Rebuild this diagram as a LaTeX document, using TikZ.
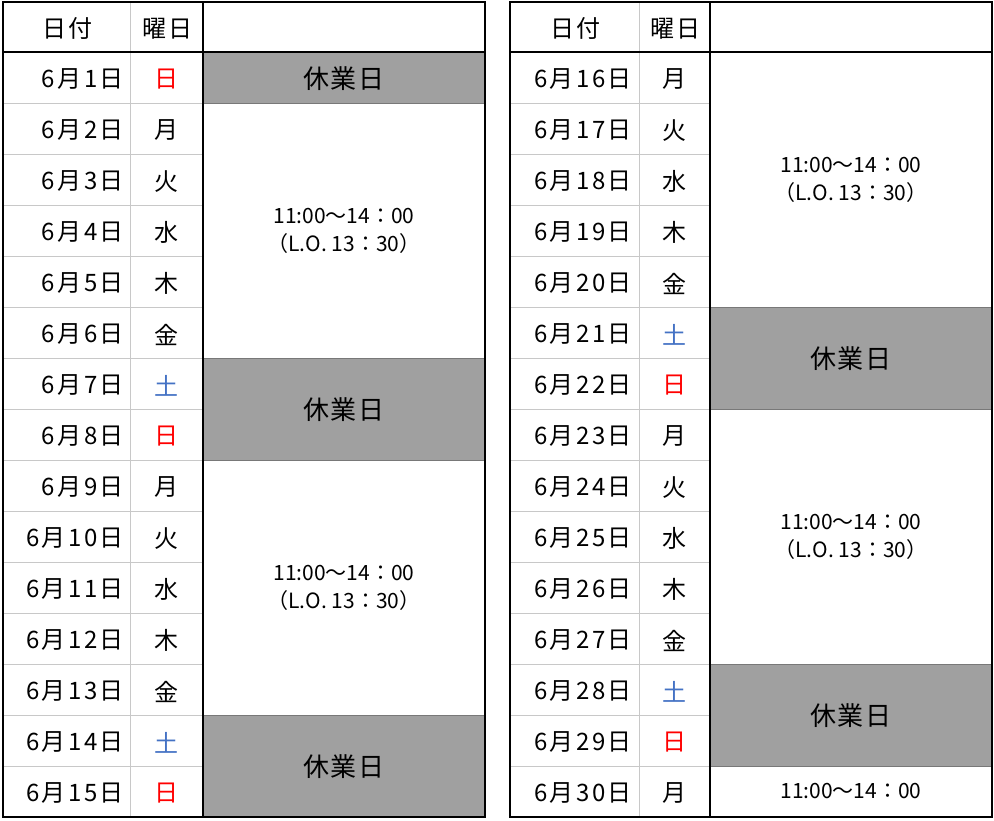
\documentclass[tikz,border=0pt]{standalone}
\usepackage{fontspec}
\setmainfont{Noto Sans CJK JP}
\definecolor{sun}{RGB}{255,0,0}
\definecolor{sat}{RGB}{68,114,196}
\definecolor{closedgray}{RGB}{160,160,160}
\definecolor{edgegray}{RGB}{120,120,120}
\definecolor{gridgray}{RGB}{200,200,200}
\tikzset{
  frame/.style={line width=2.5pt,draw=black},
  gridline/.style={line width=1pt,draw=gridgray},
  closed/.style={fill=closedgray,draw=edgegray,line width=1pt},
  headcell/.style={yshift=-1.5pt,font=\fontsize{24}{24}\selectfont\addfontfeature{LetterSpace=10}},
  datecell/.style={anchor=east,inner sep=0pt,yshift=-2pt,font=\fontsize{24}{24}\selectfont\addfontfeature{LetterSpace=10}},
  daycell/.style={inner sep=0pt,yshift=-2pt,font=\fontsize{24}{24}\selectfont},
  hours/.style={align=center,font=\fontsize{21}{28}\selectfont},
  holiday/.style={yshift=-1pt,font=\fontsize{26}{26}\selectfont\addfontfeature{LetterSpace=5}}
}
\begin{document}
\begin{tikzpicture}[x=1pt,y=-1pt]
\useasboundingbox (0,0) rectangle (994,820);

% left table
\draw[closed] (203,52) rectangle (485,103);
\draw[closed] (203,358) rectangle (485,460);
\draw[closed] (203,715) rectangle (485,817);
\foreach \i in {1,...,14}
  \draw[gridline] (3,{52+\i*51}) -- (203,{52+\i*51});
\draw[gridline] (130,2) -- (130,817);
\draw[frame] (3,2) rectangle (485,817);
\draw[frame] (3,52) -- (485,52);
\draw[frame] (203,2) -- (203,817);

\node[headcell] (headL1) at (67.5,27) {日付};
\node[headcell] (headL2) at (167.5,27) {曜日};
\foreach \d/\w/\c [count=\i] in {1/日/sun,2/月/black,3/火/black,4/水/black,5/木/black,
    6/金/black,7/土/sat,8/日/sun,9/月/black,10/火/black,11/水/black,12/木/black,
    13/金/black,14/土/sat,15/日/sun} {
  \node[datecell] (dateL\i) at (124,{52+(\i-0.5)*51}) {6月{\d}日};
  \node[daycell,text=\c] (dayL\i) at (166.5,{52+(\i-0.5)*51}) {\w};
}
\node[holiday] (offL1) at (344,77.5) {休業日};
\node[hours] (openL1) at (344,230.5) {11:00～14：00\\（L.O. 13：30）};
\node[holiday] (offL2) at (344,409) {休業日};
\node[hours] (openL2) at (344,587.5) {11:00～14：00\\（L.O. 13：30）};
\node[holiday] (offL3) at (344,766) {休業日};

% right table
\draw[closed] (710,307) rectangle (992,409);
\draw[closed] (710,664) rectangle (992,766);
\foreach \i in {1,...,14}
  \draw[gridline] (510,{52+\i*51}) -- (710,{52+\i*51});
\draw[gridline] (639,2) -- (639,817);
\draw[frame] (510,2) rectangle (992,817);
\draw[frame] (510,52) -- (992,52);
\draw[frame] (710,2) -- (710,817);

\node[headcell] (headR1) at (575.5,27) {日付};
\node[headcell] (headR2) at (675.5,27) {曜日};
\foreach \d/\w/\c [count=\i] in {16/月/black,17/火/black,18/水/black,19/木/black,
    20/金/black,21/土/sat,22/日/sun,23/月/black,24/火/black,25/水/black,26/木/black,
    27/金/black,28/土/sat,29/日/sun,30/月/black} {
  \node[datecell] (dateR\i) at (632,{52+(\i-0.5)*51}) {6月{\d}日};
  \node[daycell,text=\c] (dayR\i) at (674.5,{52+(\i-0.5)*51}) {\w};
}
\node[hours] (openR1) at (851,179.5) {11:00～14：00\\（L.O. 13：30）};
\node[holiday] (offR1) at (851,358) {休業日};
\node[hours] (openR2) at (851,536.5) {11:00～14：00\\（L.O. 13：30）};
\node[holiday] (offR2) at (851,715) {休業日};
\node[hours] (openR3) at (851,791.5) {11:00～14：00};
\end{tikzpicture}
\end{document}
